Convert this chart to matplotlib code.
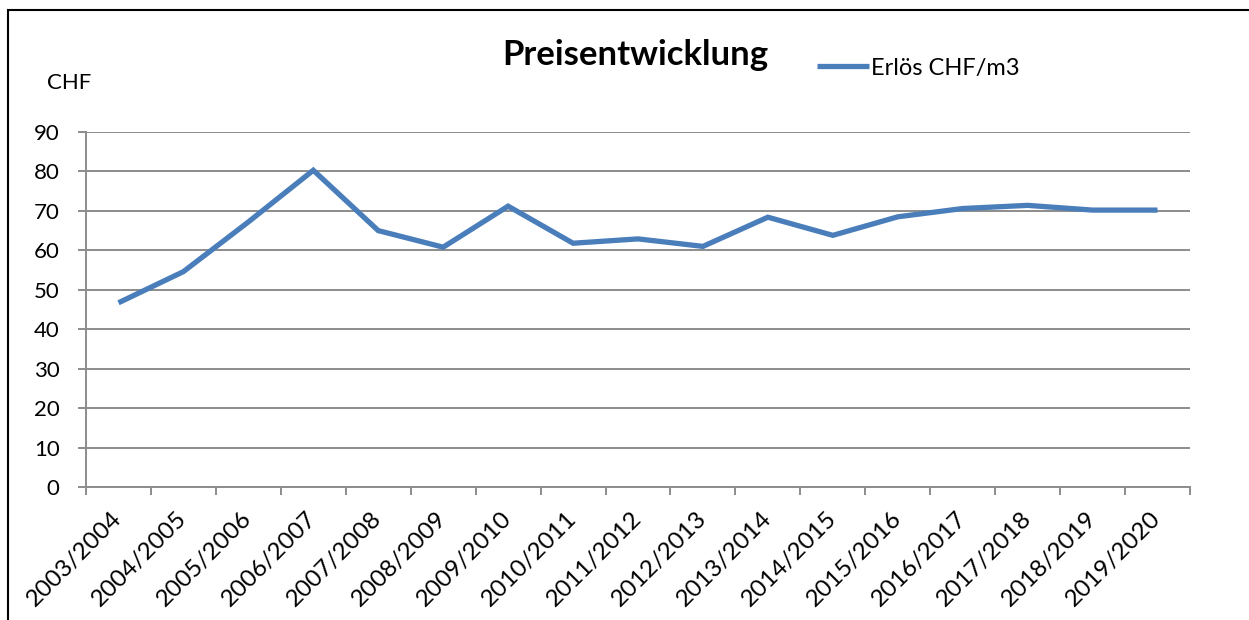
import matplotlib
matplotlib.use("Agg")
import matplotlib.pyplot as plt
from matplotlib.patches import Rectangle

categories = ["2003/2004", "2004/2005", "2005/2006", "2006/2007", "2007/2008",
              "2008/2009", "2009/2010", "2010/2011", "2011/2012", "2012/2013",
              "2013/2014", "2014/2015", "2015/2016", "2016/2017", "2017/2018",
              "2018/2019", "2019/2020"]
erloes = [46.7, 54.6, 67.2, 80.3, 65.0, 60.8, 71.2, 61.8, 62.9, 61.0,
          68.4, 63.8, 68.5, 70.6, 71.4, 70.2, 70.2]
yticks = [0, 10, 20, 30, 40, 50, 60, 70, 80, 90]

plt.rcParams['font.family'] = ['Lato', 'DejaVu Sans']

W, H = 1249, 620
fig = plt.figure(figsize=(W / 100, H / 100), dpi=100)
ax = fig.add_axes([86 / W, 1 - 487 / H, (1190 - 86) / W, (487 - 132) / H])

x = list(range(len(categories)))
line, = ax.plot(x, erloes, color="#4a7ebb", linewidth=3.8, solid_joinstyle="miter",
                solid_capstyle="butt")

ax.set_xlim(-0.5, len(categories) - 0.5)
ax.set_ylim(0, 90)
ax.set_yticks(yticks)
ax.set_yticklabels([str(v) for v in yticks], fontsize=16)
ax.yaxis.grid(True, color="#8c8c8c", linewidth=1.4)
ax.set_axisbelow(True)

ax.set_xticks([i - 0.5 for i in range(len(categories) + 1)])
ax.set_xticklabels([])
ax.set_xticks(x, minor=True)
ax.set_xticklabels(categories, minor=True, rotation=45, ha="right",
                   va="center", rotation_mode="anchor", fontsize=17.5)
ax.tick_params(axis="x", which="minor", length=0, pad=20)
ax.tick_params(axis="x", which="major", length=6, color="#8c8c8c", width=1.4)
ax.tick_params(axis="y", length=6, color="#8c8c8c", width=1.4, pad=13)

for s in ["top", "right"]:
    ax.spines[s].set_visible(False)
for s in ["left", "bottom"]:
    ax.spines[s].set_color("#8c8c8c")
    ax.spines[s].set_linewidth(1.4)

fig.text(635 / W, 1 - 55 / H, "Preisentwicklung", fontsize=25, fontweight="bold",
         ha="center", va="center")
fig.text(47 / W, 1 - 83 / H, "CHF", fontsize=16, ha="left", va="center")

leg = fig.legend([line], ["Erlös CHF/m3"], loc="center left",
                 bbox_to_anchor=(817 / W, 1 - 68 / H), frameon=False,
                 fontsize=17, handlelength=2.2, handletextpad=0.1,
                 borderaxespad=0, borderpad=0)

fig.patches.append(Rectangle((8 / W, -0.1), 1.2, (1 - 10 / H) + 0.1,
                             transform=fig.transFigure, fill=False,
                             edgecolor="black", linewidth=1.5))

fig.savefig("out.png", dpi=100)
